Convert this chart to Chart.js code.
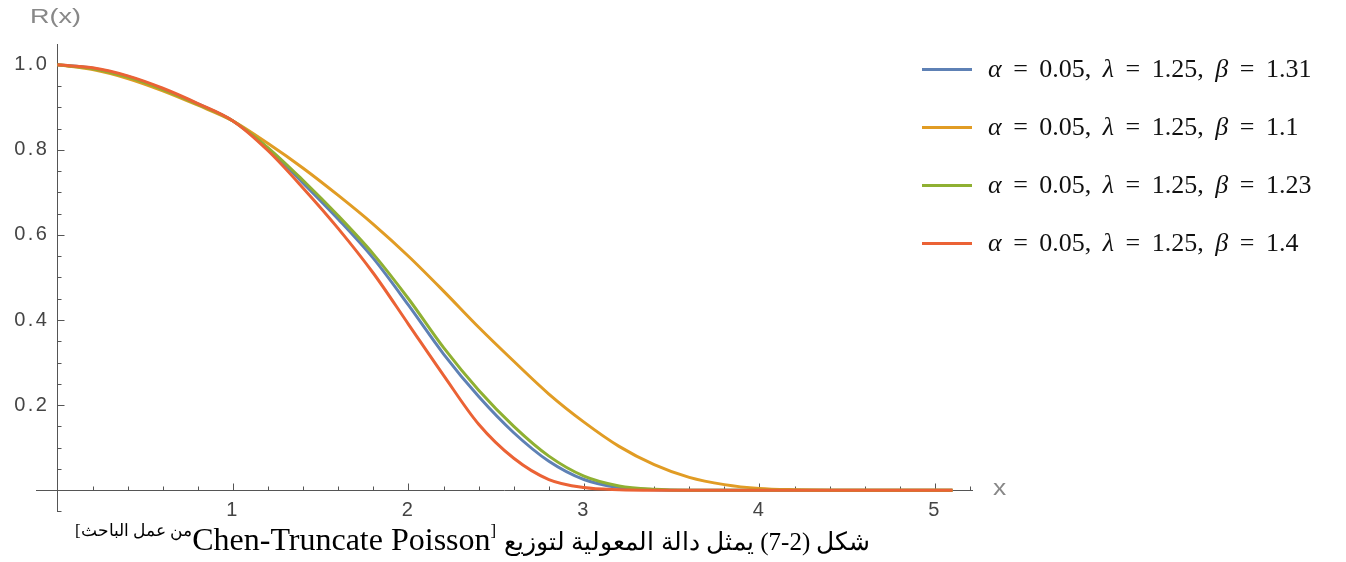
<!DOCTYPE html>
<html>
<head>
<meta charset="utf-8">
<script src="https://cdn.jsdelivr.net/npm/chart.js@4.4.1/dist/chart.umd.min.js"></script>
<style>
  body { margin: 0; background: #fff; }
  #wrap { position: relative; width: 1346px; height: 562px; overflow: hidden; }
  #chartBox { position: absolute; left: 0; top: 0; width: 1346px; height: 562px; }
  #legend { position: absolute; left: 922px; top: 40px; font-family: "Liberation Serif", serif; font-size: 26px; color: #111; word-spacing: 5px; }
  .row { height: 58px; display: flex; align-items: center; white-space: nowrap; }
  .swatch { width: 50px; height: 3px; margin-right: 16px; }
  .axname { position: absolute; font-family: "Liberation Sans", sans-serif; color: #888; line-height: 1; transform-origin: left center; }
  #yname { left: 30px; top: 6px; font-size: 20px; transform: scaleX(1.35); }
  #xname { left: 993px; top: 477px; font-size: 22px; transform: scaleX(1.2); }
  #caption { position: absolute; left: 75px; top: 523px; font-family: "Liberation Serif", serif; font-size: 32px; line-height: 32px; color: #000; white-space: nowrap; direction: ltr; }
  .sup { font-size: 17px; position: relative; top: -14px; }
  .ar { unicode-bidi: isolate; direction: rtl; }
  .arMain { font-size: 25px; }
</style>
</head>
<body>
<div id="wrap">
  <div id="chartBox"><canvas id="relChart"></canvas></div>
  <div id="legend"></div>
  <div class="axname" id="yname">R(x)</div>
  <div class="axname" id="xname">x</div>
  <div id="caption"><span class="sup">[</span><span class="sup ar">من عمل الباحث</span>Chen-Truncate Poisson<span class="sup">]</span> <span class="ar arMain">شكل (2-7) يمثل دالة المعولية لتوزيع</span></div>
</div>
<script>
var xValues = [0, 0.2, 0.4, 0.6, 0.8, 1.0, 1.2, 1.4, 1.6, 1.8, 2.0, 2.2, 2.4, 2.6, 2.8, 3.0, 3.2, 3.4, 3.6, 3.8, 4.0, 4.2, 4.4, 4.6, 4.8, 5.0, 5.1];

// R(x) for each beta (alpha = 0.05, lambda = 1.25)
var rBeta131 = [1.0, 0.992, 0.973, 0.943, 0.908, 0.868, 0.803, 0.722, 0.637, 0.545, 0.435, 0.32, 0.22, 0.135, 0.068, 0.025, 0.006, 0.001, 0, 0, 0, 0, 0, 0, 0, 0, 0];
var rBeta11  = [1.0, 0.989, 0.968, 0.939, 0.905, 0.868, 0.815, 0.757, 0.693, 0.625, 0.55, 0.468, 0.383, 0.303, 0.226, 0.16, 0.103, 0.06, 0.03, 0.013, 0.004, 0.001, 0, 0, 0, 0, 0];
var rBeta123 = [1.0, 0.991, 0.971, 0.942, 0.907, 0.868, 0.805, 0.728, 0.645, 0.555, 0.45, 0.335, 0.235, 0.15, 0.08, 0.033, 0.01, 0.002, 0, 0, 0, 0, 0, 0, 0, 0, 0];
var rBeta14  = [1.0, 0.993, 0.974, 0.945, 0.909, 0.868, 0.798, 0.71, 0.615, 0.51, 0.39, 0.27, 0.155, 0.075, 0.025, 0.006, 0.001, 0, 0, 0, 0, 0, 0, 0, 0, 0, 0];

var seriesLabels = [
  '<i>α</i> = 0.05, <i>λ</i> = 1.25, <i>β</i> = 1.31',
  '<i>α</i> = 0.05, <i>λ</i> = 1.25, <i>β</i> = 1.1',
  '<i>α</i> = 0.05, <i>λ</i> = 1.25, <i>β</i> = 1.23',
  '<i>α</i> = 0.05, <i>λ</i> = 1.25, <i>β</i> = 1.4'
];
var seriesValues = [rBeta131, rBeta11, rBeta123, rBeta14];
var seriesColors = ['#5E81B5', '#E19C24', '#8FB032', '#EB6235'];

function toPoints(ys) {
  return xValues.map(function(x, i) { return { x: x, y: ys[i] }; });
}

var datasets = seriesValues.map(function(vals, i) {
  return {
    label: seriesLabels[i],
    data: toPoints(vals),
    borderColor: seriesColors[i],
    borderWidth: 3,
    pointRadius: 0,
    fill: false,
    cubicInterpolationMode: 'monotone',
    order: seriesValues.length - i   // red drawn last, on top
  };
});

// Mathematica style ticks pointing into the plot
var insideTicks = {
  id: 'insideTicks',
  beforeDraw: function(chart) {
    // tick labels in the original are wide and airy
    chart.ctx.letterSpacing = '2.5px';
  },
  beforeDatasetsDraw: function(chart) {
    var ctx = chart.ctx, xs = chart.scales.x, ys = chart.scales.y;
    var x0 = Math.round(xs.getPixelForValue(0)) + 0.5;
    var y0 = Math.round(ys.getPixelForValue(0)) + 0.5;
    ctx.save();
    ctx.strokeStyle = '#555';
    ctx.lineWidth = 1;
    ctx.beginPath();
    for (var k = 1; k * 0.2 <= xs.max; k++) {
      var px = Math.round(xs.getPixelForValue(k * 0.2)) + 0.5;
      var len = (k % 5 === 0) ? 7 : 4;
      ctx.moveTo(px, y0);
      ctx.lineTo(px, y0 - len);
    }
    for (var j = -1; j * 0.05 <= ys.max; j++) {
      if (j === 0) continue;
      var py = Math.round(ys.getPixelForValue(j * 0.05)) + 0.5;
      var l2 = (j % 4 === 0) ? 7 : 4;
      ctx.moveTo(x0, py);
      ctx.lineTo(x0 + l2, py);
    }
    ctx.stroke();
    ctx.restore();
  }
};

var tickFont = { family: 'Liberation Sans', size: 20 };

var chart = new Chart(document.getElementById('relChart').getContext('2d'), {
  type: 'line',
  data: { datasets: datasets },
  options: {
    responsive: true,
    maintainAspectRatio: false,
    animation: false,
    layout: { padding: { left: 36, right: 374, top: 44, bottom: 51 } },
    plugins: { legend: { display: false }, tooltip: { enabled: false } },
    scales: {
      x: {
        type: 'linear',
        min: -0.1225,
        max: 5.211,
        position: { y: 0 },
        afterFit: function(s) { s.height = 0; },
        grid: { display: false },
        border: { display: true, color: '#555', width: 1 },
        ticks: {
          stepSize: 1,
          includeBounds: false,
          autoSkip: false,
          maxRotation: 0,
          padding: 0,
          color: '#444',
          font: tickFont,
          callback: function(v) { return v > 0 ? String(v) : ''; }
        }
      },
      y: {
        type: 'linear',
        min: -0.049,
        max: 1.049,
        position: { x: 0 },
        afterFit: function(s) { s.width = 0; },
        grid: { display: false },
        border: { display: true, color: '#555', width: 1 },
        ticks: {
          stepSize: 0.2,
          includeBounds: false,
          autoSkip: false,
          color: '#444',
          font: tickFont,
          // trailing space keeps the label clear of the axis line
          callback: function(v) { return v > 0.01 ? v.toFixed(1) + ' ' : ''; }
        }
      }
    }
  },
  plugins: [insideTicks]
});

// legend built from the same series arrays
var legendBox = document.getElementById('legend');
seriesLabels.forEach(function(lbl, i) {
  var row = document.createElement('div');
  row.className = 'row';
  row.innerHTML = '<span class="swatch" style="background:' + seriesColors[i] + '"></span><span>' + lbl + '</span>';
  legendBox.appendChild(row);
});
</script>
</body>
</html>
